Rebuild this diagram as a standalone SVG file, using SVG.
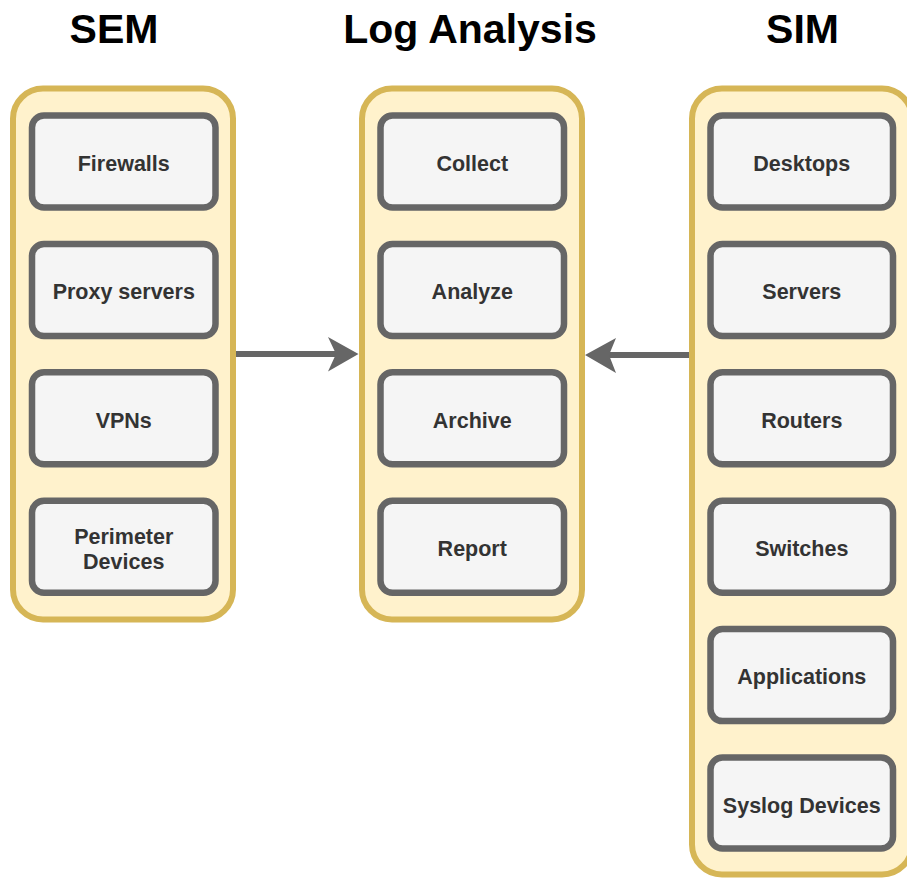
<svg xmlns="http://www.w3.org/2000/svg" width="907" height="880" viewBox="0 0 907 880">
  <style>
    .title { font-family: "Liberation Sans", Arial, Helvetica, sans-serif; font-weight: bold; font-size: 41px; fill: #000000; text-anchor: middle; }
    .group { fill: #fff2cc; stroke: #d6b656; stroke-width: 6; }
    .item { fill: #f5f5f5; stroke: #666666; stroke-width: 6.5; }
    .label { font-family: "Liberation Sans", Arial, Helvetica, sans-serif; font-weight: bold; font-size: 21.5px; fill: #333333; text-anchor: middle; }
    .link { stroke: #666666; stroke-width: 6; fill: none; }
    .head { fill: #666666; stroke: none; }
  </style>

  <!-- column headings -->
  <text class="title" x="114" y="42.5">SEM</text>
  <text class="title" x="470" y="42.5">Log Analysis</text>
  <text class="title" x="802.5" y="42.5">SIM</text>

  <!-- SEM column -->
  <g id="sem">
    <rect class="group" x="13" y="88.5" width="220" height="531" rx="30" ry="30"/>
    <g id="sem-firewalls">
      <rect class="item" x="32" y="115.5" width="183.5" height="92" rx="12" ry="12"/>
      <text class="label" x="123.75" y="171">Firewalls</text>
    </g>
    <g id="sem-proxy">
      <rect class="item" x="32" y="244" width="183.5" height="92" rx="12" ry="12"/>
      <text class="label" x="123.75" y="299.3">Proxy servers</text>
    </g>
    <g id="sem-vpns">
      <rect class="item" x="32" y="372.3" width="183.5" height="92" rx="12" ry="12"/>
      <text class="label" x="123.75" y="427.7">VPNs</text>
    </g>
    <g id="sem-perimeter">
      <rect class="item" x="32" y="500.7" width="183.5" height="92" rx="12" ry="12"/>
      <text class="label" x="123.75" y="544">Perimeter</text>
      <text class="label" x="123.75" y="569">Devices</text>
    </g>
  </g>

  <!-- Log Analysis column -->
  <g id="log-analysis">
    <rect class="group" x="362" y="88.5" width="220" height="531" rx="30" ry="30"/>
    <g id="log-collect">
      <rect class="item" x="380.5" y="115.5" width="183.5" height="92" rx="12" ry="12"/>
      <text class="label" x="472.25" y="171">Collect</text>
    </g>
    <g id="log-analyze">
      <rect class="item" x="380.5" y="244" width="183.5" height="92" rx="12" ry="12"/>
      <text class="label" x="472.25" y="299.3">Analyze</text>
    </g>
    <g id="log-archive">
      <rect class="item" x="380.5" y="372.3" width="183.5" height="92" rx="12" ry="12"/>
      <text class="label" x="472.25" y="427.7">Archive</text>
    </g>
    <g id="log-report">
      <rect class="item" x="380.5" y="500.7" width="183.5" height="92" rx="12" ry="12"/>
      <text class="label" x="472.25" y="556">Report</text>
    </g>
  </g>

  <!-- SIM column -->
  <g id="sim">
    <rect class="group" x="692" y="88.5" width="220" height="786" rx="30" ry="30"/>
    <g id="sim-desktops">
      <rect class="item" x="710.5" y="115.5" width="182.5" height="92" rx="12" ry="12"/>
      <text class="label" x="801.75" y="171">Desktops</text>
    </g>
    <g id="sim-servers">
      <rect class="item" x="710.5" y="244" width="182.5" height="92" rx="12" ry="12"/>
      <text class="label" x="801.75" y="299.3">Servers</text>
    </g>
    <g id="sim-routers">
      <rect class="item" x="710.5" y="372.3" width="182.5" height="92" rx="12" ry="12"/>
      <text class="label" x="801.75" y="427.7">Routers</text>
    </g>
    <g id="sim-switches">
      <rect class="item" x="710.5" y="500.7" width="182.5" height="92" rx="12" ry="12"/>
      <text class="label" x="801.75" y="556">Switches</text>
    </g>
    <g id="sim-applications">
      <rect class="item" x="710.5" y="629.1" width="182.5" height="92" rx="12" ry="12"/>
      <text class="label" x="801.75" y="684.4">Applications</text>
    </g>
    <g id="sim-syslog">
      <rect class="item" x="710.5" y="757.5" width="182.5" height="91" rx="12" ry="12"/>
      <text class="label" x="801.75" y="812.5">Syslog Devices</text>
    </g>
  </g>

  <!-- connectors -->
  <g id="connectors">
    <line class="link" x1="236" y1="354" x2="340" y2="354"/>
    <path class="head" d="M358.5,354 L328,337 L336,354 L328,371.5 Z"/>
    <line class="link" x1="689" y1="355" x2="604" y2="355"/>
    <path class="head" d="M585,355 L616,338 L609,355 L616,373 Z"/>
  </g>
</svg>
